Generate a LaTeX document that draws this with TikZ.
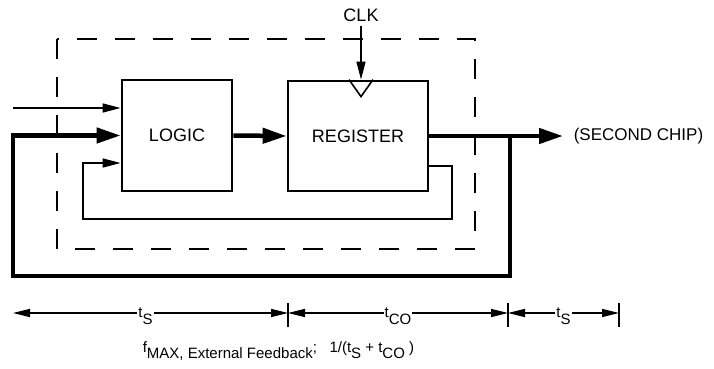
\documentclass[tikz,border=0pt]{standalone}
\usepackage{fontspec}
\setmainfont{Liberation Sans}
\usetikzlibrary{arrows.meta}

\newcommand{\tsub}[2]{#1\raisebox{-0.45em}{#2}}

\begin{document}
\begin{tikzpicture}[x=1pt, y=-1pt, line width=1.6pt,
  caja/.style={draw, line width=2.8pt, inner sep=0pt, font=\fontsize{18}{21}\selectfont},
  gruesa/.style={line width=4.5pt, -{Triangle[length=24pt,width=15pt]}},
  fina/.style={line width=1.6pt, -{Triangle[length=18pt,width=9pt]}},
  cota/.style={line width=1.4pt, {Triangle[length=17pt,width=8pt]}-{Triangle[length=17pt,width=8pt]}},
  etiq/.style={fill=white, inner sep=1pt, font=\fontsize{15}{18}\selectfont}]
  \useasboundingbox (0,0) rectangle (714,369);
  % limite del chip
  \draw[dash pattern=on 20pt off 18pt] (57,39) rectangle (475,249);
  % bloques
  \node[caja, minimum width=110pt, minimum height=111pt] (logic) at (177,135.5) {LOGIC};
  \node[caja, minimum width=140pt, minimum height=110pt] (reg) at (358,136) {REGISTER};
  \node[font=\fontsize{18}{21}\selectfont] (clk) at (361,15.5) {CLK};
  \node[anchor=west, inner xsep=10pt, font=\fontsize{17}{20}\selectfont] (chip) at (563,136) {(SECOND CHIP)};
  % reloj
  \coordinate (ck) at (clk.south |- reg.north);
  \draw[fina] (clk.south) -- (ck);
  \draw ([xshift=-12pt]ck) -- ([yshift=-17pt]ck) -- ([xshift=12pt]ck);
  % entrada y datos
  \coordinate (in) at (13,108);
  \draw[fina] (in) -- (logic.west |- in);
  \draw[gruesa] (logic.east) -- (reg.west);
  \draw[gruesa] (reg.east) -- (chip.west);
  % realimentacion externa
  \coordinate (rama) at (510,136);
  \coordinate (esq) at (13,276);
  \draw[gruesa] (rama) |- (esq) |- (logic.west);
  % realimentacion interna
  \coordinate (fbA) at (452,166);
  \coordinate (fbB) at (83,219);
  \coordinate (fbC) at (83,163);
  \draw[fina] (reg.east |- fbA) -- (fbA) |- (fbB) |- (logic.west |- fbC);
  % tiempos
  \coordinate (k0) at (13,313);
  \coordinate (k1) at (288,313);
  \coordinate (k2) at (508,313);
  \coordinate (k3) at (619,313);
  \foreach \k in {k1,k2,k3}
    \draw[line width=1.2pt] ([yshift=10pt]\k) -- ([yshift=-14pt]\k);
  \draw[cota] (k0) -- node[etiq, yshift=-3pt, xshift=-5pt] {\tsub{t}{S}} (k1);
  \draw[cota] (k1) -- node[etiq, yshift=-3pt] {\tsub{t}{CO}} (k2);
  \draw[cota] (k2) -- node[etiq, yshift=-3pt] {\tsub{t}{S}} (k3);
  \node[anchor=base west, inner sep=0pt, font=\fontsize{15}{18}\selectfont] (fmax) at (142,352)
    {\tsub{f}{MAX, External Feedback};\ \ \ 1/(\tsub{t}{S} + \tsub{t}{CO} )};
\end{tikzpicture}
\end{document}
